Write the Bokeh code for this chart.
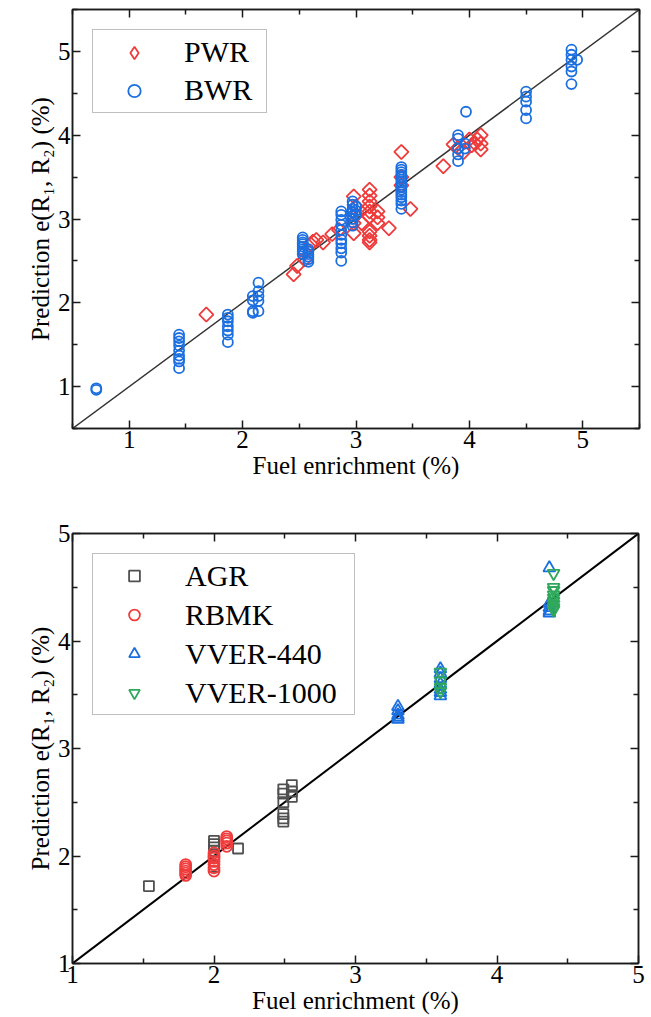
from bokeh.plotting import figure
from bokeh.models import LinearAxis, Range1d, Legend, LegendItem, FixedTicker
from bokeh.layouts import column
from bokeh.embed import file_html
from bokeh.resources import INLINE

# ---------------- data: top panel ----------------
pwr_x = [1.68, 2.45, 2.48, 2.55, 2.55, 2.60, 2.62, 2.65, 2.71, 2.79, 2.85, 2.98, 2.98,
         3.00, 3.00, 2.98, 3.05, 3.12, 3.12, 3.12, 3.12, 3.12, 3.12, 3.12, 3.12, 3.12,
         3.12, 3.19, 3.19, 3.19, 3.29, 3.40, 3.40, 3.40, 3.48, 3.77, 3.86, 3.90, 3.95,
         4.00, 4.02, 4.07, 4.10, 4.10, 4.10, 4.05]
pwr_y = [1.86, 2.34, 2.44, 2.52, 2.60, 2.70, 2.73, 2.75, 2.72, 2.82, 2.87, 2.83, 2.95,
         3.05, 3.15, 3.27, 2.95, 3.35, 3.28, 3.21, 3.15, 3.09, 3.03, 2.85, 2.80, 2.75,
         2.72, 3.09, 2.95, 3.02, 2.89, 3.80, 3.50, 3.40, 3.12, 3.63, 3.89, 3.85, 3.80,
         3.95, 3.88, 3.95, 4.00, 3.90, 3.83, 3.90]

bwr_x = ([0.71, 0.71] + [1.44] * 9 + [1.87] * 7 + [2.09] * 4 + [2.14] * 5 +
         [2.53] * 8 + [2.58] * 6 + [2.87] * 11 + [2.97] * 8 + [3.00] * 3 +
         [3.40] * 16 + [3.90] * 5 + [3.96] * 2 + [3.97] + [4.50] * 5 +
         [4.90] * 6 + [4.95])
bwr_y = ([0.96, 0.98] +
         [1.62, 1.58, 1.54, 1.49, 1.43, 1.37, 1.33, 1.30, 1.22] +
         [1.86, 1.82, 1.78, 1.72, 1.67, 1.62, 1.53] +
         [2.03, 2.08, 1.90, 1.88] +
         [2.24, 2.14, 2.08, 2.02, 1.90] +
         [2.78, 2.75, 2.72, 2.70, 2.67, 2.64, 2.61, 2.58] +
         [2.64, 2.61, 2.58, 2.55, 2.52, 2.49] +
         [3.09, 3.05, 2.99, 2.93, 2.87, 2.81, 2.75, 2.71, 2.65, 2.60, 2.50] +
         [3.21, 3.17, 3.12, 3.08, 3.04, 3.00, 2.96, 2.92] +
         [3.10, 3.15, 3.05] +
         [3.62, 3.59, 3.56, 3.53, 3.50, 3.47, 3.44, 3.41, 3.38, 3.35, 3.32, 3.29,
          3.26, 3.22, 3.18, 3.12] +
         [4.00, 3.96, 3.84, 3.77, 3.69] +
         [3.90, 3.84] + [4.28] +
         [4.52, 4.46, 4.40, 4.30, 4.20] +
         [5.02, 4.96, 4.90, 4.82, 4.76, 4.61] + [4.90])

# ---------------- data: bottom panel ----------------
agr_x = [1.54] + [2.0] * 7 + [2.17] + [2.49] * 6 + [2.55] * 3
agr_y = [1.72, 2.14, 2.11, 2.08, 2.05, 2.00, 1.95, 1.90, 2.07,
         2.62, 2.58, 2.50, 2.39, 2.35, 2.32, 2.66, 2.60, 2.55]

rbmk_x = [1.80] * 6 + [2.00] * 7 + [2.09] * 5
rbmk_y = [1.92, 1.90, 1.88, 1.86, 1.84, 1.82,
          2.03, 2.00, 1.98, 1.95, 1.92, 1.89, 1.86,
          2.18, 2.16, 2.14, 2.12, 2.09]

v440_x = [3.30] * 5 + [3.60] * 7 + [4.37] * 5
v440_y = [3.39, 3.35, 3.31, 3.29, 3.27,
          3.74, 3.70, 3.65, 3.60, 3.55, 3.52, 3.49,
          4.68, 4.35, 4.31, 4.28, 4.26]

v1000_x = [3.60] * 4 + [4.40] * 9
v1000_y = [3.71, 3.63, 3.57, 3.53,
           4.63, 4.50, 4.47, 4.43, 4.40, 4.37, 4.34, 4.31, 4.29]

top_ticks = [1, 2, 3, 4, 5]
top_minor = [0.5, 1.5, 2.5, 3.5, 4.5, 5.5]
bot_ticks = [1, 2, 3, 4, 5]
bot_minor = [1.5, 2.5, 3.5, 4.5]

x_title = "Fuel enrichment (%)"
y_title = "Prediction e(R\u2081, R\u2082) (%)"

FONT = "Liberation Serif"
AX = "#1a1a1a"


def style_axis(ax, ticker, labels=True):
    ax.ticker = ticker
    ax.axis_line_color = AX
    ax.axis_line_width = 1.5
    ax.major_tick_line_color = AX
    ax.major_tick_line_width = 1.5
    ax.minor_tick_line_color = AX
    ax.minor_tick_line_width = 1.5
    ax.major_tick_in = 8
    ax.major_tick_out = 0
    ax.minor_tick_in = 5
    ax.minor_tick_out = 0
    ax.major_label_text_font = FONT
    ax.major_label_text_font_size = "25px"
    ax.major_label_text_color = "black"
    ax.major_label_standoff = 2
    ax.axis_label_text_font = FONT
    ax.axis_label_text_font_size = "25px"
    ax.axis_label_text_font_style = "normal"
    ax.axis_label_text_color = "black"
    ax.axis_label_standoff = 1
    if not labels:
        ax.major_label_overrides = {t: "" for t in ticker.ticks}
        ax.major_label_standoff = 0


def make_fig(rng, fw, fh, top, bottom, right, ticks, minors):
    p = figure(frame_width=fw, frame_height=fh,
               x_range=Range1d(*rng), y_range=Range1d(*rng),
               output_backend="svg", toolbar_location=None,
               min_border_left=72, min_border_right=right,
               min_border_top=top, min_border_bottom=bottom,
               x_axis_label=x_title, y_axis_label=y_title)
    p.grid.visible = False
    p.background_fill_color = "white"
    p.border_fill_color = "white"
    p.outline_line_color = AX
    p.outline_line_width = 1.5
    tk = FixedTicker(ticks=ticks, minor_ticks=minors)
    style_axis(p.below[0], tk)
    style_axis(p.left[0], tk)
    for loc in ("above", "right"):
        ax = LinearAxis()
        style_axis(ax, FixedTicker(ticks=ticks, minor_ticks=minors), labels=False)
        p.add_layout(ax, loc)
    return p


def make_legend(items, padding, glyph_w, glyph_h, row_h, standoff, label_w):
    lg = Legend(items=items, location="top_left", margin=20)
    lg.label_text_font = FONT
    lg.label_text_font_size = "30px"
    lg.label_text_color = "black"
    lg.label_height = row_h
    lg.glyph_height = glyph_h
    lg.glyph_width = glyph_w
    lg.label_standoff = standoff
    lg.label_width = label_w
    lg.padding = padding
    lg.spacing = 0
    lg.border_line_color = "#7f7f7f"
    lg.border_line_width = 1.2
    lg.background_fill_color = "white"
    lg.background_fill_alpha = 1.0
    return lg


PWR_C = "#EF3B3B"
BWR_C = "#1B6FE0"
NAN = float("nan")

# ---------------- top figure ----------------
p1 = make_fig((0.5, 5.5), 567, 419, 9, 70, 12, top_ticks, top_minor)
p1.line([0.5, 5.5], [0.5, 5.5], line_color="#333333", line_width=1.5)
r_pwr = p1.scatter(pwr_x, pwr_y, marker="square", angle=0.785398, size=10,
                   fill_color=None, line_color=PWR_C, line_width=1.8)
r_bwr = p1.scatter(bwr_x, bwr_y, marker="circle", size=10,
                   fill_color=None, line_color=BWR_C, line_width=1.8)
# legend key for the diamond (legend glyphs are never rotated); holds no point
r_pwr_key = p1.scatter(x=[NAN], y=[NAN], marker="diamond", size=10,
                       fill_color=None, line_color=PWR_C, line_width=1.8)
p1.add_layout(make_legend([LegendItem(label="PWR", renderers=[r_pwr_key]),
                           LegendItem(label="BWR", renderers=[r_bwr])],
                          3, 76, 31, 38, 12, 79))

# ---------------- bottom figure ----------------
p2 = make_fig((1, 5), 566, 430, 35, 54, 13, bot_ticks, bot_minor)
p2.line([1, 5], [1, 5], line_color="black", line_width=2)
r_agr = p2.scatter(agr_x, agr_y, marker="square", size=10,
                   fill_color=None, line_color="#505050", line_width=1.8)
r_rbmk = p2.scatter(rbmk_x, rbmk_y, marker="circle", size=11,
                    fill_color=None, line_color="#F03C3C", line_width=1.8)
r_v440 = p2.scatter(v440_x, v440_y, marker="triangle", size=12,
                    fill_color=None, line_color="#1A6FE0", line_width=1.8)
r_v1000 = p2.scatter(v1000_x, v1000_y, marker="inverted_triangle", size=12,
                     fill_color=None, line_color="#2FA85C", line_width=1.8)
p2.add_layout(make_legend([LegendItem(label="AGR", renderers=[r_agr]),
                           LegendItem(label="RBMK", renderers=[r_rbmk]),
                           LegendItem(label="VVER-440", renderers=[r_v440]),
                           LegendItem(label="VVER-1000", renderers=[r_v1000])],
                          2, 78, 27, 39, 12, 167))

layout = column(p1, p2, spacing=0)
open("out.html", "w").write(file_html(layout, INLINE))
